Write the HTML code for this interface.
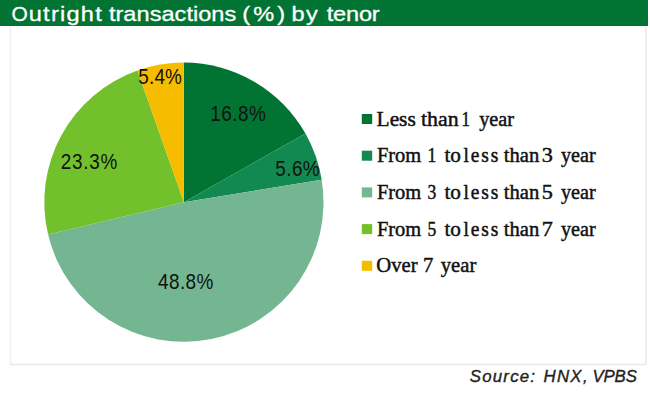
<!DOCTYPE html>
<html><head><meta charset="utf-8">
<style>
html,body{margin:0;padding:0;background:#fff;width:650px;height:400px;overflow:hidden}
svg{display:block}
</style></head><body>
<svg width="650" height="400" viewBox="0 0 650 400">
<rect x="0" y="0" width="650" height="400" fill="#fff"/>
<path d="M10.5,26V364.6" stroke="#f1f1f1" stroke-width="1.6" fill="none"/>
<path d="M646,26V364.6" stroke="#eeeeee" stroke-width="1.8" fill="none"/>
<path d="M9.7,364.6H646.8" stroke="#e8e8e8" stroke-width="1.5" fill="none"/>
<rect x="0" y="0" width="648" height="26" fill="#017433"/>
<g font-family="Liberation Sans, sans-serif" font-size="20.5" fill="#fff" stroke="#fff" stroke-width="0.3">
<text x="11.58" y="21.2" textLength="16.29" lengthAdjust="spacingAndGlyphs">O</text>
<text transform="translate(28.76,21.2) scale(1.15,1)" textLength="63.48" lengthAdjust="spacing">utright</text>
<text transform="translate(108.91,21.2) scale(1.15,1)" textLength="110.76" lengthAdjust="spacing">transactions</text>
<text transform="translate(242.26,21.2) scale(1.15,1)" textLength="37.18" lengthAdjust="spacing">(%)</text>
<text transform="translate(291.56,21.2) scale(1.15,1)" textLength="22.86" lengthAdjust="spacing">by</text>
<text transform="translate(326.71,21.2) scale(1.15,1)" textLength="46.03" lengthAdjust="spacing">tenor</text>
</g>
<path d="M183.9,202.2L183.90,62.60A139.6,139.6 0 0 1 305.45,133.54Z" fill="#017433"/>
<path d="M183.9,202.2L305.45,133.54A139.6,139.6 0 0 1 321.67,179.69Z" fill="#128950"/>
<path d="M183.9,202.2L321.67,179.69A139.6,139.6 0 0 1 48.11,234.61Z" fill="#74b691"/>
<path d="M183.9,202.2L48.11,234.61A139.6,139.6 0 0 1 137.39,70.57Z" fill="#72c02c"/>
<path d="M183.9,202.2L137.39,70.57A139.6,139.6 0 0 1 183.90,62.60Z" fill="#f5bc00"/>
<g font-family="Liberation Sans, sans-serif" font-size="22" fill="#111">
<text transform="translate(210.19,120.8) scale(0.86,1)" textLength="64.81" lengthAdjust="spacing">16.8%</text>
<text transform="translate(275.24,176.0) scale(0.86,1)" textLength="51.64" lengthAdjust="spacing">5.6%</text>
<text transform="translate(158.07,288.6) scale(0.86,1)" textLength="64.19" lengthAdjust="spacing">48.8%</text>
<text transform="translate(60.84,169.4) scale(0.86,1)" textLength="65.58" lengthAdjust="spacing">23.3%</text>
<text transform="translate(138.34,83.8) scale(0.86,1)" textLength="50.59" lengthAdjust="spacing">5.4%</text>
</g>
<rect x="361.8" y="114.0" width="10.4" height="10" fill="#017433"/>
<rect x="361.8" y="150.7" width="10.4" height="10" fill="#128950"/>
<rect x="361.8" y="187.4" width="10.4" height="10" fill="#74b691"/>
<rect x="361.8" y="224.1" width="10.4" height="10" fill="#72c02c"/>
<rect x="361.8" y="260.8" width="10.4" height="10" fill="#f5bc00"/>
<g font-family="Liberation Serif, serif" font-size="20.5" fill="#111" stroke="#111" stroke-width="0.45">
<text x="376.58" y="125.5" textLength="39.18" lengthAdjust="spacingAndGlyphs">Less</text>
<text x="421.03" y="125.5" textLength="37.68" lengthAdjust="spacingAndGlyphs">than</text>
<text x="461.55" y="125.5" textLength="8.48" lengthAdjust="spacingAndGlyphs">1</text>
<text x="479.15" y="125.5" textLength="34.93" lengthAdjust="spacingAndGlyphs">year</text>
<text x="376.90" y="162.2" textLength="44.34" lengthAdjust="spacingAndGlyphs">From</text>
<text x="427.50" y="162.2" textLength="8.77" lengthAdjust="spacingAndGlyphs">1</text>
<text x="444.44" y="162.2" textLength="16.48" lengthAdjust="spacingAndGlyphs">to</text>
<text transform="translate(463.52,162.2) scale(0.95,1)" textLength="36.74" lengthAdjust="spacing">less</text>
<text x="503.75" y="162.2" textLength="35.55" lengthAdjust="spacingAndGlyphs">than</text>
<text x="541.72" y="162.2" textLength="11.09" lengthAdjust="spacingAndGlyphs">3</text>
<text x="560.95" y="162.2" textLength="34.72" lengthAdjust="spacingAndGlyphs">year</text>
<text x="376.90" y="198.9" textLength="44.34" lengthAdjust="spacingAndGlyphs">From</text>
<text x="427.50" y="198.9" textLength="8.77" lengthAdjust="spacingAndGlyphs">3</text>
<text x="444.44" y="198.9" textLength="16.48" lengthAdjust="spacingAndGlyphs">to</text>
<text transform="translate(463.52,198.9) scale(0.95,1)" textLength="36.74" lengthAdjust="spacing">less</text>
<text x="503.75" y="198.9" textLength="35.55" lengthAdjust="spacingAndGlyphs">than</text>
<text x="541.72" y="198.9" textLength="11.09" lengthAdjust="spacingAndGlyphs">5</text>
<text x="560.95" y="198.9" textLength="34.72" lengthAdjust="spacingAndGlyphs">year</text>
<text x="376.90" y="235.6" textLength="44.34" lengthAdjust="spacingAndGlyphs">From</text>
<text x="427.50" y="235.6" textLength="8.77" lengthAdjust="spacingAndGlyphs">5</text>
<text x="444.44" y="235.6" textLength="16.48" lengthAdjust="spacingAndGlyphs">to</text>
<text transform="translate(463.52,235.6) scale(0.95,1)" textLength="36.74" lengthAdjust="spacing">less</text>
<text x="503.75" y="235.6" textLength="35.55" lengthAdjust="spacingAndGlyphs">than</text>
<text x="541.72" y="235.6" textLength="11.09" lengthAdjust="spacingAndGlyphs">7</text>
<text x="560.95" y="235.6" textLength="34.72" lengthAdjust="spacingAndGlyphs">year</text>
<text x="376.34" y="272.3" textLength="41.29" lengthAdjust="spacingAndGlyphs">Over</text>
<text x="422.94" y="272.3" textLength="10.37" lengthAdjust="spacingAndGlyphs">7</text>
<text x="440.65" y="272.3" textLength="35.64" lengthAdjust="spacingAndGlyphs">year</text>
</g>
<g font-family="Liberation Sans, sans-serif" font-size="16.5" font-style="italic" fill="#222" stroke="#222" stroke-width="0.35">
<text transform="translate(469.79,382.3) scale(1.02,1)" textLength="63.94" lengthAdjust="spacing">Source:</text>
<text transform="translate(543.39,382.3) scale(1.02,1)" textLength="43.38" lengthAdjust="spacing">HNX,</text>
<text transform="translate(592.47,382.3) scale(1.02,1)" textLength="43.56" lengthAdjust="spacing">VPBS</text>
</g>
</svg>
</body></html>
